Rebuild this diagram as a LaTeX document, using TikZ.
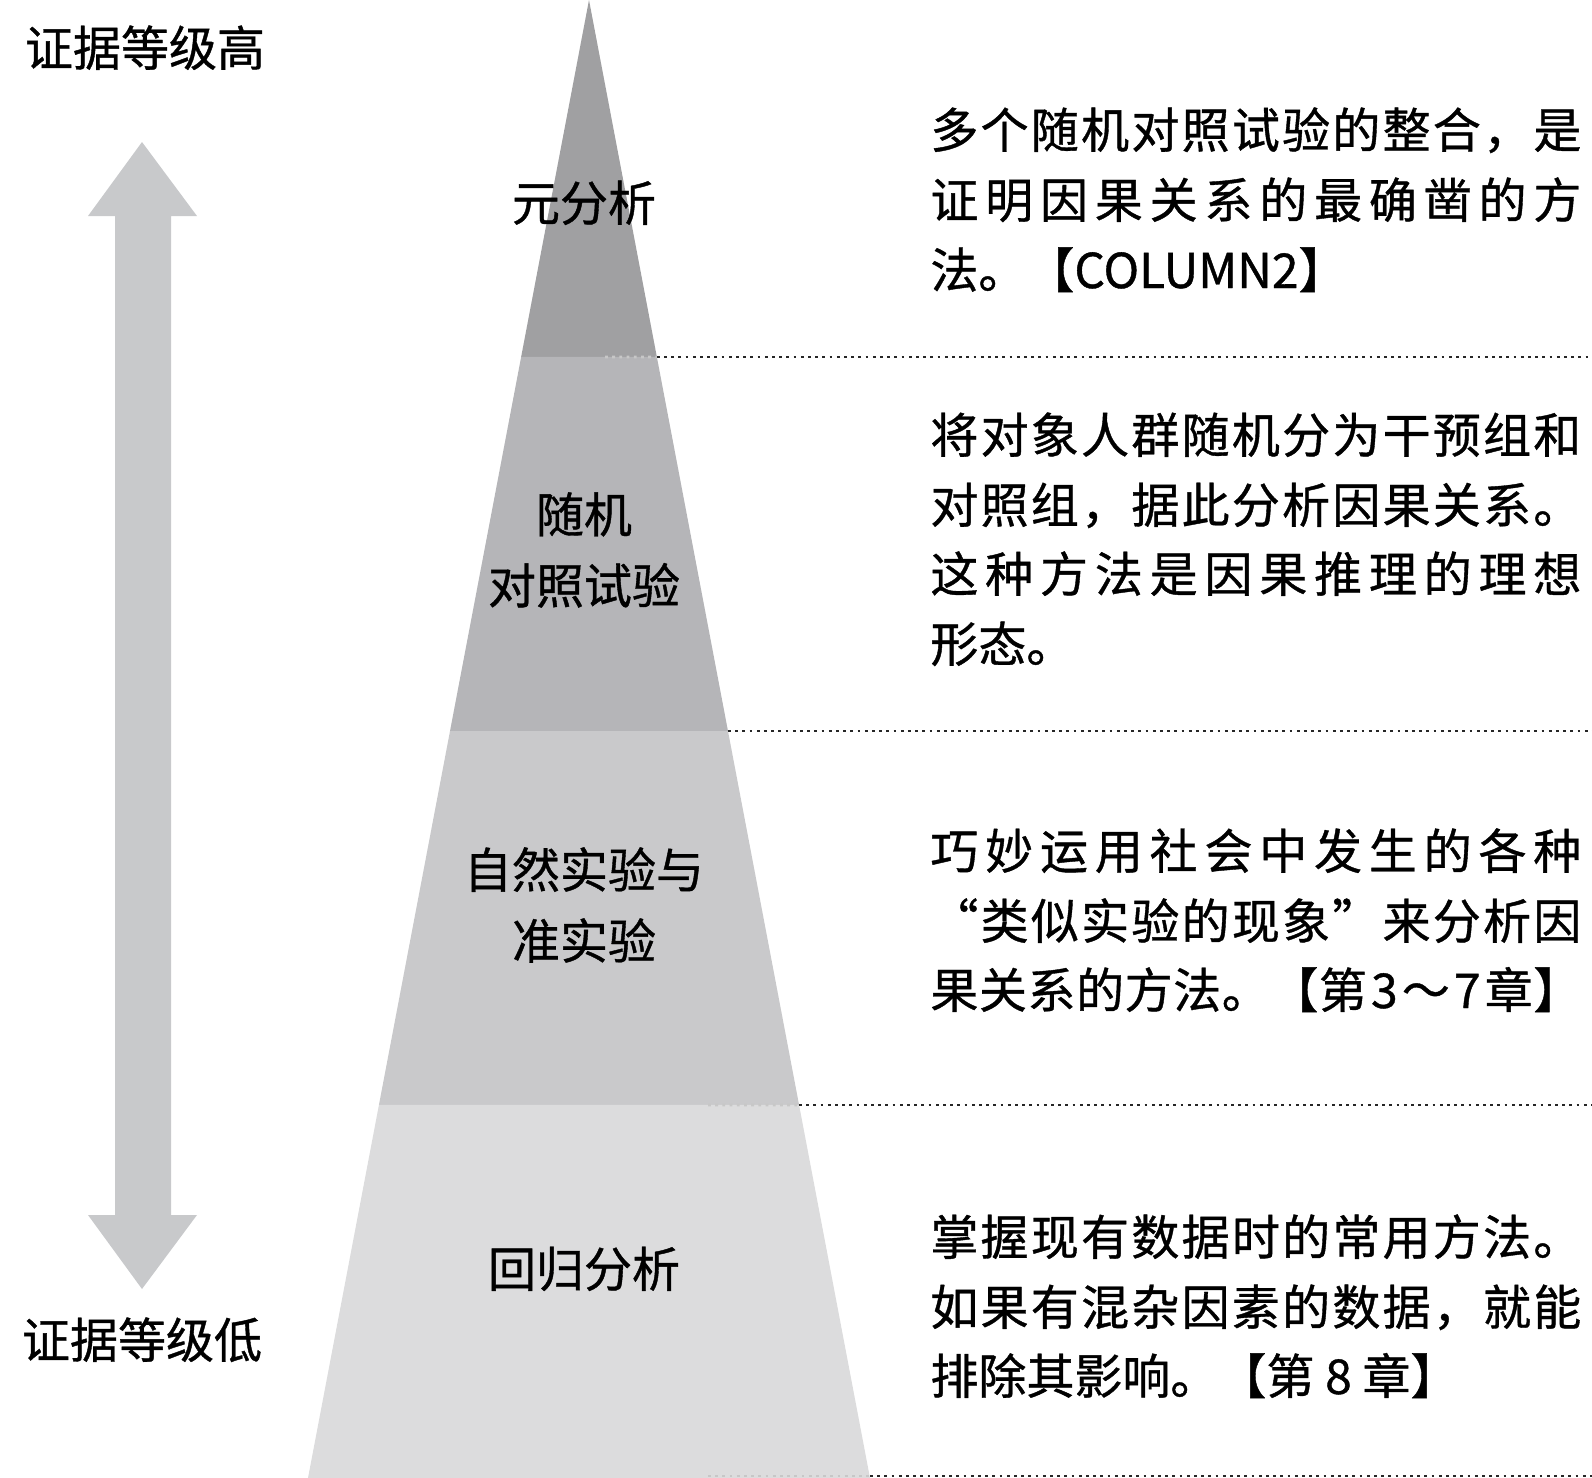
\documentclass[tikz,border=0pt]{standalone}
\usepackage{fontspec}
\setmainfont[FakeBold=0.8]{Noto Sans CJK SC}
\usetikzlibrary{calc}
\definecolor{bandA}{RGB}{160,160,162}
\definecolor{bandB}{RGB}{181,181,184}
\definecolor{bandC}{RGB}{201,201,203}
\definecolor{bandD}{RGB}{220,220,221}
\definecolor{arrowgray}{RGB}{200,201,203}
\newlength{\jw}\setlength{\jw}{325.5pt}
% justified line: stretch between every character
\newcommand{\jl}[1]{\makebox[\jw][s]{\jfirst#1\relax}}
\def\jfirst#1{#1\jrest}
\def\jrest#1{\ifx#1\relax\else\hfil#1\expandafter\jrest\fi}
\def\jsp{\hskip 1.5pt}

\begin{document}
\begin{tikzpicture}[x=0.5pt,y=-0.5pt,
  lvl/.style={inner sep=0,text height=21pt,text depth=3pt,font=\fontsize{24pt}{35.5pt}\selectfont},
  lvlm/.style={inner sep=0,align=center,font=\fontsize{24pt}{35.5pt}\selectfont},
  desc/.style={inner sep=0,anchor=west,text height=21pt,text depth=3pt,font=\fontsize{24pt}{34.8pt}\selectfont},
  sepline/.style={line width=1.4pt,black!85,dash pattern=on 1.4pt off 2.2pt},
  sepfaint/.style={sepline,white!78!black}]
\useasboundingbox (0,0) rectangle (1592,1478);

% pyramid
\coordinate (apex) at (589,0);
\coordinate (bl) at (308,1478);
\coordinate (br) at (870,1478);
\coordinate (xend) at (1592,0);
\foreach \k/\t in {1/0.2415,2/0.4946,3/0.7476,4/1}{
  \coordinate (l\k) at ($(apex)!\t!(bl)$);
  \coordinate (r\k) at ($(apex)!\t!(br)$);
}
\fill[bandA] (apex) -- (r1) -- (l1) -- cycle;
\fill[bandB] (l1) -- (r1) -- (r2) -- (l2) -- cycle;
\fill[bandC] (l2) -- (r2) -- (r3) -- (l3) -- cycle;
\fill[bandD] (l3) -- (r3) -- (r4) -- (l4) -- cycle;

% dotted separators
\coordinate (f1) at (605,357);
\coordinate (f3) at (708,1105);
\coordinate (f4) at (708,1476);
\coordinate (g4) at (870,1476);
\draw[sepfaint] (f1) -- (r1);
\draw[sepfaint] (f3) -- (r3);
\draw[sepfaint] (f4) -- (g4);
\foreach \k in {1,2,3}
  \draw[sepline] (r\k) -- (r\k -| xend);
\draw[sepline] (g4) -- (g4 -| xend);

% evidence arrow
\fill[arrowgray] (142,142) -- (197,216) -- (171,216) -- (171,1215) -- (197,1215)
  -- (142,1289) -- (88,1215) -- (115,1215) -- (115,216) -- (88,216) -- cycle;
\node[lvl] (high) at (145,48) {证据等级高};
\node[lvl] (low) at (142,1340) {证据等级低};

% level labels
\node[lvl] (meta) at (584,203) {元分析};
\node[lvlm] (rct) at (584,550) {随机\\对照试验};
\node[lvlm] (nat) at (584,905) {自然实验与\\准实验};
\node[lvl] (reg) at (584,1269) {回归分析};

% descriptions
\node[desc] (tmeta1) at (930,130) {\jl{多个随机对照试验的整合，是}};
\node[desc] (tmeta2) at (930,200) {\jl{证明因果关系的最确凿的方}};
\node[desc] (tmeta3) at (930,270) {法。【COLUMN2】};

\node[desc] (trct1) at (930,435) {\jl{将对象人群随机分为干预组和}};
\node[desc] (trct2) at (930,505) {\jl{对照组，据此分析因果关系。}};
\node[desc] (trct3) at (930,574) {\jl{这种方法是因果推理的理想}};
\node[desc] (trct4) at (930,644) {形态。};

\node[desc] (tnat1) at (930,851) {\jl{巧妙运用社会中发生的各种}};
\node[desc] (tnat2) at (930,921) {\jl{“类似实验的现象”来分析因}};
\node[desc] (tnat3) at (930,990) {\jl{果关系的方法。【第{\jsp}3{\jsp}～{\jsp}7{\jsp}章】}};

\node[desc] (treg1) at (930,1237) {\jl{掌握现有数据时的常用方法。}};
\node[desc] (treg2) at (930,1307) {\jl{如果有混杂因素的数据，就能}};
\node[desc] (treg3) at (930,1376) {排除其影响。【第 8 章】};
\end{tikzpicture}
\end{document}
